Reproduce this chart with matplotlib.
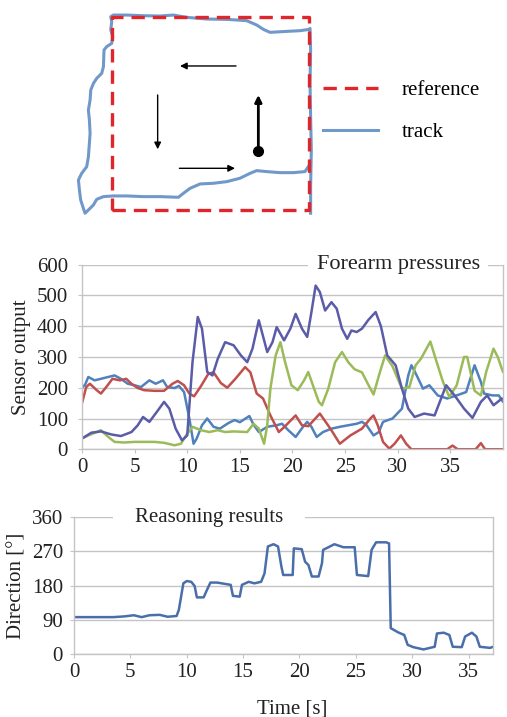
import matplotlib
matplotlib.use("Agg")
import matplotlib.pyplot as plt

plt.rcParams['font.family'] = ['Liberation Serif', 'DejaVu Serif']
plt.rcParams['font.size'] = 15

# ---------------------------------------------------------------------
# track test (units: m, reference square 2 x 2)
# ---------------------------------------------------------------------
ref_x = [0, 2, 2, 0, 0]
ref_y = [0, 0, 2, 2, 0]

track_x = [2.013, 2.013, 2.020, 2.013, 2.007, 2.013, 2.007, 2.000, 1.906, 1.771,
           1.602, 1.535, 1.467, 1.366, 1.164, 0.961, 0.759, 0.624, 0.489, 0.320,
           0.152, 0.017, -0.010, 0.000, -0.010, 0.010, 0.000, -0.051, -0.078, -0.084,
           -0.101, -0.152, -0.185, -0.212, -0.219, -0.236, -0.226, -0.219, -0.226, -0.236,
           -0.253, -0.304, -0.337, -0.327, -0.314, -0.287, -0.270, -0.236, -0.185, -0.152,
           -0.084, 0.017, 0.152, 0.320, 0.489, 0.675, 0.725, 0.793, 0.894, 1.029,
           1.164, 1.298, 1.400, 1.467, 1.568, 1.703, 1.838, 1.956, 1.990]
track_y = [-0.034, 0.241, 0.621, 0.966, 1.310, 1.655, 1.879, 1.869, 1.855, 1.848,
           1.838, 1.869, 1.914, 1.959, 1.972, 1.976, 1.993, 2.017, 2.007, 2.010,
           2.017, 2.017, 2.000, 1.948, 1.862, 1.793, 1.724, 1.690, 1.655, 1.483,
           1.414, 1.362, 1.310, 1.241, 1.138, 1.034, 0.931, 0.793, 0.690, 0.552,
           0.448, 0.379, 0.310, 0.207, 0.103, 0.017, -0.034, 0.000, 0.052, 0.110,
           0.138, 0.145, 0.145, 0.138, 0.138, 0.131, 0.172, 0.224, 0.269, 0.276,
           0.293, 0.328, 0.379, 0.407, 0.397, 0.386, 0.386, 0.397, 0.448]

# direction arrows (start -> end)
arrow_start = [(1.258, 1.490), (0.465, 1.190), (0.685, 0.431), (1.484, 0.614)]
arrow_end = [(0.691, 1.490), (0.465, 0.628), (1.248, 0.431), (1.484, 1.190)]
start_pt = (1.484, 0.614)

# ---------------------------------------------------------------------
# forearm pressures
# ---------------------------------------------------------------------
t_blue = [0, 0.3, 0.6, 1.2, 1.8, 2.5, 3.1, 3.7, 4.35, 5.0, 5.6, 6.4, 7.0, 7.7, 8.1,
          8.8, 9.2, 9.7, 10.2, 10.6, 10.9, 11.4, 11.9, 12.5, 13.1, 13.9, 14.5, 15.0,
          15.9, 16.3, 16.8, 17.6, 18.5, 19.0, 19.6, 20.3, 21.0, 21.4, 21.8, 22.3, 22.9,
          23.7, 24.5, 25.3, 26.1, 26.6, 27.0, 27.7, 28.2, 28.6, 29.5, 30.4, 31.0, 31.3,
          31.8, 32.4, 33.0, 33.8, 34.7, 35.6, 36.5, 37.3, 37.9, 38.2, 39.0, 39.6, 40]
v_blue = [200, 210, 235, 224, 229, 235, 240, 229, 213, 208, 202, 224, 213, 224, 202,
          199, 206, 186, 100, 18, 35, 78, 100, 73, 67, 85, 95, 88,
          108, 80, 56, 73, 78, 83, 62, 40, 73, 89, 73, 40, 56,
          67, 73, 78, 83, 89, 80, 45, 56, 89, 100, 132, 240, 273,
          240, 197, 208, 175, 165, 175, 186, 273, 219, 181, 175, 175, 154]

t_red = [0, 0.4, 0.75, 1.4, 1.8, 2.3, 2.9, 3.6, 4.2, 4.7, 5.3, 5.9, 6.9, 7.8, 8.6,
         9.1, 9.7, 10.2, 10.65, 11.3, 12.0, 12.5, 13.2, 13.8, 14.6, 15.5, 16.0, 16.6,
         17.2, 17.9, 18.7, 19.3, 20.3, 20.9, 21.5, 22.6, 23.6, 24.5, 25.5, 26.6, 27.4,
         27.7, 28.1, 28.6, 29.2, 29.7, 30.3, 30.8, 31.3, 34.7, 35.2, 35.7, 37.4, 37.9,
         38.3, 40]
v_red = [150, 202, 213, 192, 181, 202, 229, 224, 229, 213, 199, 192, 190, 190, 213,
         222, 208, 181, 172, 205, 245, 250, 215, 200, 230, 267, 250, 181,
         165, 110, 56, 75, 110, 78, 75, 116, 67, 18, 45, 67, 100,
         110, 78, 24, 2, 18, 45, 18, 0, 0, 12, 0, 0, 20,
         0, 0]

t_green = [0, 0.6, 1.4, 1.8, 2.5, 3.1, 4.0, 5.0, 5.9, 6.9, 7.8, 8.8, 9.4, 10.0, 10.5,
           11.3, 12.1, 12.9, 13.6, 14.4, 15.7, 16.3, 16.8, 17.3, 17.6, 17.9, 18.4, 18.85,
           19.3, 19.9, 20.5, 21.1, 21.5, 22.0, 22.5, 22.8, 23.4, 24.05, 24.7, 25.3, 25.9,
           26.6, 27.2, 27.7, 28.3, 28.8, 29.5, 30.4, 31.1, 31.7, 32.2, 33.1, 33.6, 34.3,
           34.9, 35.6, 36.3, 36.6, 37.3, 37.9, 38.4, 39.1, 39.5, 40]
v_green = [35, 45, 56, 62, 40, 24, 22, 24, 24, 24, 21, 13, 18, 51, 73,
           62, 56, 62, 56, 58, 56, 83, 67, 18, 78, 197, 305, 348,
           283, 208, 192, 224, 251, 202, 154, 143, 197, 283, 316, 283, 260,
           250, 210, 178, 250, 305, 270, 197, 202, 273, 294, 350, 294, 219,
           170, 208, 300, 300, 190, 175, 251, 327, 300, 251]

t_purple = [0, 0.9, 1.8, 2.8, 3.7, 4.7, 5.3, 5.8, 6.4, 7.1, 7.8, 8.3, 8.9, 9.5, 10.0,
            10.5, 11.0, 11.4, 11.9, 12.4, 12.9, 13.6, 14.4, 15.1, 15.7, 16.2, 16.8, 17.6,
            18.1, 18.5, 19.2, 19.8, 20.3, 20.9, 21.4, 21.8, 22.2, 22.6, 23.1, 23.7, 24.2,
            24.7, 25.2, 25.6, 26.1, 26.6, 27.2, 27.9, 28.4, 29.0, 29.8, 30.4, 31.0, 31.6,
            32.5, 33.5, 34.6, 35.4, 36.3, 37.1, 37.9, 38.5, 39.1, 39.9]
v_purple = [35, 54, 58, 48, 43, 56, 78, 105, 89, 121, 154, 132, 67, 29, 45,
            283, 430, 392, 251, 240, 294, 348, 338, 305, 283, 327, 419, 316,
            348, 397, 354, 392, 440, 392, 365, 446, 532, 511, 451, 478, 457,
            392, 359, 386, 381, 392, 420, 446, 400, 305, 273, 197, 132, 105,
            116, 110, 208, 175, 132, 102, 154, 175, 143, 165]

# ---------------------------------------------------------------------
# reasoning results
# ---------------------------------------------------------------------
t_dir = [0, 3.5, 4.5, 5.3, 6.0, 6.7, 7.6, 8.3, 9.1, 9.3, 9.7, 10.0, 10.4, 10.7, 10.9,
         11.5, 11.8, 12.1, 12.7, 13.5, 13.9, 14.1, 14.7, 14.9, 15.5, 16.0, 16.6, 16.9,
         17.2, 17.7, 18.1, 18.4, 18.56, 19.4, 19.5, 20.2, 20.5, 20.8, 21.1, 21.7, 22.0,
         22.1, 23.1, 23.9, 24.9, 25.1, 26.1, 26.4, 26.8, 27.7, 27.95, 28.1, 28.75, 29.3,
         29.6, 30.1, 31.0, 32.0, 32.2, 32.8, 33.3, 33.6, 34.4, 34.7, 35.3, 35.7, 36.0,
         36.9, 37.2]
v_dir = [97, 97, 99, 102, 97, 102, 103, 98, 100, 116, 186, 192, 190, 179, 149,
         149, 169, 188, 188, 184, 182, 153, 151, 182, 190, 186, 190, 212,
         283, 289, 283, 230, 208, 208, 278, 276, 243, 234, 204, 204, 239,
         274, 289, 281, 281, 208, 205, 274, 294, 294, 291, 68, 57, 50,
         24, 18, 12, 19, 54, 56, 50, 19, 18, 46, 56, 46, 19,
         16, 19]

GRID = "#c4c4c4"
TXT = "#222222"
LINE_KW = dict(lw=1.8, solid_joinstyle="round", solid_capstyle="round", zorder=2)

fig = plt.figure(figsize=(5.07, 7.17), dpi=100)

# ---------------- top: track ----------------
ax0 = fig.add_axes([0.1424, 0.6937, 0.4872, 0.2965])
tr, = ax0.plot(track_x, track_y, color="#7099c9", lw=2.2, zorder=2,
               solid_joinstyle="round")
rf, = ax0.plot(ref_x, ref_y, color="#e0262b", lw=2.4, ls=(0, (4, 2.4)), zorder=3)
for (x0, y0), (x1, y1) in zip(arrow_start, arrow_end):
    thick = 2.0 if (x0, y0) == start_pt else 1.0
    ax0.annotate("", xy=(x1, y1), xytext=(x0, y0),
                 arrowprops=dict(arrowstyle="-|>", color="black", lw=thick,
                                 mutation_scale=10, shrinkA=0, shrinkB=0))
ax0.plot([start_pt[0]], [start_pt[1]], "o", color="black", ms=7)
ax0.set_xlim(-0.4, 2.1)
ax0.set_ylim(-0.1, 2.1)
ax0.axis("off")

fig.legend([rf, tr], ["reference", "track"], loc="upper left",
           bbox_to_anchor=(0.637, 0.888), frameon=False, fontsize=15,
           handlelength=2.64, handletextpad=1.15, labelspacing=1.1,
           borderpad=0, borderaxespad=0)


def style_axis(ax):
    for s in ax.spines.values():
        s.set_color(GRID)
        s.set_linewidth(1.0)
    # the top gridline stands in for the top border, so the title box can hide it
    ax.spines["top"].set_visible(False)
    ax.grid(axis="y", color=GRID, lw=1.0)
    ax.set_axisbelow(True)
    ax.tick_params(axis="both", colors=GRID, labelcolor=TXT, labelsize=15, length=3)


# ---------------- middle: forearm pressures ----------------
ax1 = fig.add_axes([0.1617, 0.3734, 0.8304, 0.2575])
ax1.plot(t_blue, v_blue, color="#4f81bd", **LINE_KW)
ax1.plot(t_red, v_red, color="#c0504d", **LINE_KW)
ax1.plot(t_green, v_green, color="#9bbb59", **LINE_KW)
ax1.plot(t_purple, v_purple, color="#5b5ca8", **LINE_KW)
ax1.set_xlim(0, 40)
ax1.set_ylim(0, 600)
ax1.set_xticks(range(0, 40, 5))
ax1.set_yticks(range(0, 601, 100))
style_axis(ax1)
ax1.tick_params(axis="y", pad=7)
ax1.set_ylabel("Sensor output", color=TXT, fontsize=15, labelpad=4)
ax1.text(0.945, 1.0, "Forearm pressures", transform=ax1.transAxes, ha="right",
         va="center", fontsize=16, color=TXT, zorder=1.5,
         bbox=dict(facecolor="white", edgecolor="none", pad=6))

# ---------------- bottom: reasoning results ----------------
ax2 = fig.add_axes([0.146, 0.0879, 0.827, 0.1907])
ax2.plot(t_dir, v_dir, color="#4a6eaa", **LINE_KW)
ax2.set_xlim(0, 37.2)
ax2.set_ylim(0, 360)
ax2.set_xticks(range(0, 37, 5))
ax2.set_yticks(range(0, 361, 90))
style_axis(ax2)
ax2.tick_params(axis="y", pad=5)
ax2.set_ylabel("Direction [°]", color=TXT, fontsize=15, labelpad=4)
ax2.set_xlabel("Time [s]", color=TXT, fontsize=15)
ax2.xaxis.set_label_coords(0.52, -0.33)
ax2.text(0.145, 1.0, "Reasoning results", transform=ax2.transAxes, ha="left",
         va="center", fontsize=15, color=TXT, zorder=1.5,
         bbox=dict(facecolor="white", edgecolor="none", pad=16))

fig.savefig("out.png", dpi=100)
